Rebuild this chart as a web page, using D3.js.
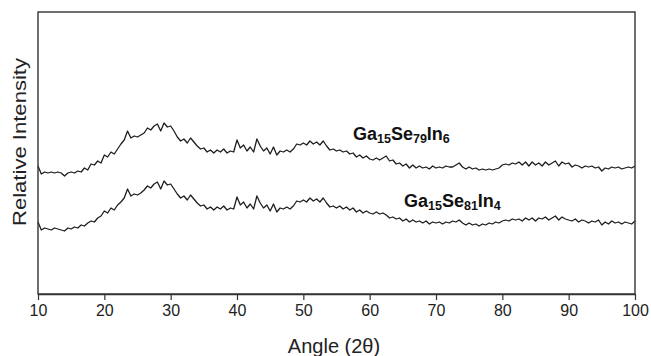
<!DOCTYPE html>
<html>
<head>
<meta charset="utf-8">
<script src="https://cdn.jsdelivr.net/npm/d3@7"></script>
<style>
  body { margin: 0; background: #ffffff; }
  svg { display: block; }
</style>
</head>
<body>
<svg id="Chart"></svg>
<script>
// sampling grid of the scans, degrees 2θ
let angleStart = 10
let angleEnd = 100
let angleStep = 0.5

let xTicks = [10, 20, 30, 40, 50, 60, 70, 80, 90, 100]

// Ga15Se79In6, every 0.5°
let upperValues = [
    128, 120, 122, 121, 122, 121, 122, 121, 118, 121,
    122, 121, 123, 122, 126, 124, 130, 129, 133, 131,
    139, 137, 142, 140, 145, 150, 154, 163, 156, 158,
    157, 159, 161, 166, 164, 168, 170, 163, 171, 167,
    168, 163, 157, 153, 155, 151, 156, 152, 148, 145,
    146, 142, 144, 141, 144, 142, 145, 141, 143, 142,
    154, 146, 149, 143, 147, 142, 155, 148, 143, 146,
    140, 147, 139, 143, 142, 144, 142, 145, 150, 149,
    151, 149, 153, 150, 152, 149, 153, 148, 144, 145,
    143, 144, 142, 143, 140, 141, 137, 139, 136, 138,
    135, 134, 136, 134, 136, 138, 133, 134, 130, 131,
    128, 130, 126, 129, 126, 128, 126, 127, 125, 128,
    126, 127, 126, 128, 127, 127, 129, 131, 127, 125,
    127, 125, 126, 124, 125, 124, 125, 124, 125, 126,
    129, 130, 129, 131, 130, 132, 129, 132, 128, 132,
    129, 131, 128, 132, 129, 131, 133, 128, 132, 130,
    131, 127, 129, 128, 126, 128, 127, 128, 126, 127,
    123, 126, 125, 127, 126, 127, 125, 126, 127, 126,
    128
]

// Ga15Se81In4, every 0.5°
let lowerValues = [
    72, 64, 66, 65, 64, 66, 65, 64, 63, 66,
    65, 67, 66, 69, 68, 71, 73, 72, 76, 78,
    83, 81, 86, 84, 89, 92, 96, 105, 98, 100,
    99, 101, 104, 108, 106, 110, 112, 105, 113, 109,
    110, 105, 100, 96, 98, 94, 99, 95, 91, 88,
    89, 85, 87, 84, 87, 85, 88, 84, 86, 85,
    97, 89, 92, 86, 90, 85, 98, 91, 86, 89,
    83, 90, 82, 86, 85, 87, 85, 88, 93, 92,
    94, 92, 96, 93, 95, 92, 96, 91, 87, 88,
    86, 88, 85, 87, 84, 86, 82, 84, 81, 83,
    81, 80, 82, 80, 81, 79, 76, 77, 75, 76,
    73, 75, 72, 74, 72, 73, 71, 73, 70, 72,
    71, 72, 70, 72, 71, 73, 72, 74, 71, 69,
    71, 69, 70, 68, 70, 69, 71, 70, 72, 71,
    73, 74, 73, 75, 74, 75, 73, 76, 74, 76,
    73, 76, 75, 77, 74, 76, 78, 74, 77, 75,
    74, 73, 75, 72, 74, 73, 71, 73, 72, 74,
    69, 72, 70, 73, 71, 72, 70, 72, 71, 70,
    73
]

// label parts: [text, isSubscript]
let upperLabel = [["Ga", false], ["15", true], ["Se", false], ["79", true], ["In", false], ["6", true]]
let lowerLabel = [["Ga", false], ["15", true], ["Se", false], ["81", true], ["In", false], ["4", true]]

let config = {}

function initConfig() {
    let width = 651
    let height = 356
    let margin = {left: 38, right: 16, top: 12, bottom: 62}
    let axisColor = "#333333"
    let lineColor = "#1e1e1e"
    let fontFamily = "Liberation Sans, Arial, sans-serif"
    let container = d3.select("#Chart")
        .attr("width", width)
        .attr("height", height)
    config = {width, height, margin, axisColor, lineColor, fontFamily, container}
}

function getScales() {
    let {width, height, margin} = config
    let x = d3.scaleLinear()
        .domain([angleStart, angleEnd])
        .range([margin.left, width - margin.right])
    let y = d3.scaleLinear()
        .domain([0, 282])
        .range([height - margin.bottom, margin.top])
    return {x, y}
}

function drawFrame(x, y) {
    let {container, axisColor, fontFamily, height, margin} = config

    container.append("rect")
        .attr("x", x(angleStart))
        .attr("y", y(282))
        .attr("width", x(angleEnd) - x(angleStart))
        .attr("height", y(0) - y(282))
        .attr("fill", "none")
        .attr("stroke", axisColor)
        .attr("stroke-width", 1.4)

    let xAxis = d3.axisBottom(x)
        .tickValues(xTicks)
        .tickSize(6)
        .tickSizeOuter(0)
        .tickPadding(5)
        .tickFormat(d3.format("d"))

    let g = container.append("g")
        .attr("transform", `translate(0,${height - margin.bottom})`)
        .call(xAxis)
    g.select(".domain")
        .attr("stroke", axisColor)
        .attr("stroke-width", 1.4)
    g.selectAll(".tick line")
        .attr("stroke", axisColor)
        .attr("stroke-width", 1.2)
    g.selectAll(".tick text")
        .attr("fill", "#222")
        .attr("font-family", fontFamily)
        .attr("font-size", "16px")
}

function drawTitles() {
    let {container, fontFamily} = config

    container.append("text")
        .attr("x", 334)
        .attr("y", 353)
        .attr("text-anchor", "middle")
        .attr("font-family", fontFamily)
        .attr("font-size", "20px")
        .attr("fill", "#222")
        .text("Angle (2θ)")

    container.append("text")
        .attr("transform", "translate(26,142) rotate(-90)")
        .attr("text-anchor", "middle")
        .attr("font-family", fontFamily)
        .attr("font-size", "19px")
        .attr("fill", "#222")
        .attr("textLength", 168)
        .attr("lengthAdjust", "spacingAndGlyphs")
        .text("Relative Intensity")
}

function drawCurves(x, y) {
    let {container, lineColor} = config
    let angles = d3.range(upperValues.length).map(i => angleStart + i * angleStep)

    let line = d3.line()
        .x(d => x(d[0]))
        .y(d => y(d[1]))

    ;[upperValues, lowerValues].forEach(values => {
        container.append("path")
            .datum(values.map((v, i) => [angles[i], v]))
            .attr("d", line)
            .attr("fill", "none")
            .attr("stroke", lineColor)
            .attr("stroke-width", 1.3)
            .attr("stroke-linejoin", "round")
    })
}

function drawLabel(parts, px, py) {
    let {container, fontFamily} = config
    let text = container.append("text")
        .attr("x", px)
        .attr("y", py)
        .attr("font-family", fontFamily)
        .attr("font-weight", "bold")
        .attr("font-size", "18px")
        .attr("fill", "#111")
    let shifted = false
    parts.forEach(([t, sub]) => {
        let span = text.append("tspan").text(t)
        if (sub) {
            span.attr("font-size", "12.5px").attr("dy", shifted ? 0 : 3)
            shifted = true
        } else {
            span.attr("dy", shifted ? -3 : 0)
            shifted = false
        }
    })
}

function drawChart() {
    initConfig()
    let {x, y} = getScales()
    drawCurves(x, y)
    drawFrame(x, y)
    drawTitles()
    drawLabel(upperLabel, 353, 140)
    drawLabel(lowerLabel, 404, 207)
}

drawChart()
</script>
</body>
</html>
